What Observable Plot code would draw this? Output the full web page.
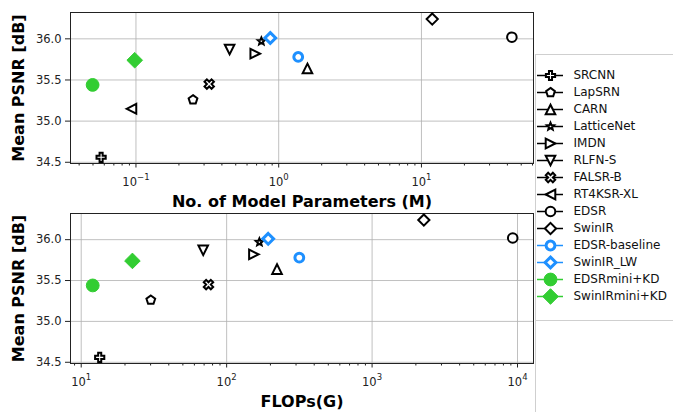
<!DOCTYPE html>
<html><head><meta charset="utf-8">
<script src="https://cdn.jsdelivr.net/npm/d3@7"></script>
<script src="https://cdn.jsdelivr.net/npm/@observablehq/plot@0.6"></script>
<style>
html,body{margin:0;padding:0;background:#fff;}
#root{position:relative;width:673px;height:412px;overflow:hidden;font-family:"DejaVu Sans",sans-serif;}
#root > *{position:absolute;}
</style></head><body><div id="root"></div>
<script>
// ---------- data ----------
const names = ["SRCNN","LapSRN","CARN","LatticeNet","IMDN","RLFN-S","FALSR-B","RT4KSR-XL","EDSR","SwinIR","EDSR-baseline","SwinIR_LW","EDSRmini+KD","SwinIRmini+KD"];
const paramsM = [0.057, 0.251, 1.59, 0.756, 0.685, 0.453, 0.326, 0.093, 43.0, 11.9, 1.37, 0.873, 0.0497, 0.098];
const flopsG  = [13.4, 30.1, 222, 168, 154, 69, 75, null, 9270, 2270, 316, 193, 12.0, 22.5];
const psnr    = [34.56, 35.26, 35.64, 35.97, 35.82, 35.87, 35.45, 35.15, 36.02, 36.24, 35.78, 36.01, 35.44, 35.74];
const yTicks = [34.5, 35.0, 35.5, 36.0];
const paramTicks = [0.1, 1, 10];
const flopTicks = [10, 100, 1000, 10000];

// ---------- style ----------
function poly(c, pts){ c.moveTo(pts[0][0], pts[0][1]); for (let k=1;k<pts.length;k++) c.lineTo(pts[k][0], pts[k][1]); c.closePath(); }
function rad(s){ return Math.sqrt(s/Math.PI); }
const plusPts = [[-1,-3],[1,-3],[1,-1],[3,-1],[3,1],[1,1],[1,3],[-1,3],[-1,1],[-3,1],[-3,-1],[-1,-1]];
function regular(n, R, a0){ return d3.range(n).map(k => [R*Math.cos(a0 + 2*Math.PI*k/n), R*Math.sin(a0 + 2*Math.PI*k/n)]); }
const S = {
  plus: {draw(c,s){ const R=rad(s); poly(c, plusPts.map(([x,y])=>[x*R/3, y*R/3])); }},
  xcross: {draw(c,s){ const R=rad(s), q=Math.SQRT1_2; poly(c, plusPts.map(([x,y])=>[(x-y)*q*R/3, (x+y)*q*R/3])); }},
  pentagon: {draw(c,s){ poly(c, regular(5, rad(s), -Math.PI/2)); }},
  triUp: {draw(c,s){ const R=rad(s); poly(c, [[0,-R],[R,R],[-R,R]]); }},
  triDown: {draw(c,s){ const R=rad(s); poly(c, [[0,R],[R,-R],[-R,-R]]); }},
  triLeft: {draw(c,s){ const R=rad(s); poly(c, [[-R,0],[R,-R],[R,R]]); }},
  triRight: {draw(c,s){ const R=rad(s); poly(c, [[R,0],[-R,-R],[-R,R]]); }},
  star: {draw(c,s){ const R=rad(s); poly(c, d3.range(10).map(k => { const r = k%2 ? R*0.45 : R, a = -Math.PI/2 + Math.PI*k/5; return [r*Math.cos(a), r*Math.sin(a)]; })); }},
  circle: {draw(c,s){ const R=rad(s); c.moveTo(R,0); c.arc(0,0,R,0,2*Math.PI); c.closePath(); }},
  diamond: {draw(c,s){ const R=rad(s); poly(c, [[0,-R],[R,0],[0,R],[-R,0]]); }}
};
const BLACK = "#000", BLUE = "#1e90ff", GREEN = "#32cd32";
const style = [
  {sym:S.plus, r:4.6, stroke:BLACK, fill:"#fff", sw:2},
  {sym:S.pentagon, r:4.6, stroke:BLACK, fill:"#fff", sw:2},
  {sym:S.triUp, r:4.8, stroke:BLACK, fill:"#fff", sw:2},
  {sym:S.star, r:3.8, stroke:BLACK, fill:"#fff", sw:2},
  {sym:S.triRight, r:4.8, stroke:BLACK, fill:"#fff", sw:2},
  {sym:S.triDown, r:4.8, stroke:BLACK, fill:"#fff", sw:2},
  {sym:S.xcross, r:5, stroke:BLACK, fill:"#fff", sw:2},
  {sym:S.triLeft, r:4.8, stroke:BLACK, fill:"#fff", sw:2},
  {sym:S.circle, r:4.8, stroke:BLACK, fill:"#fff", sw:2},
  {sym:S.diamond, r:5.6, stroke:BLACK, fill:"#fff", sw:2},
  {sym:S.circle, r:4.4, stroke:BLUE, fill:"#fff", sw:3},
  {sym:S.diamond, r:5.4, stroke:BLUE, fill:"#fff", sw:3},
  {sym:S.circle, r:6.4, stroke:GREEN, fill:GREEN, sw:1},
  {sym:S.diamond, r:7.8, stroke:GREEN, fill:GREEN, sw:1}
];
const supMap = {"-":"\u2212"};
const expText = d => String(Math.round(Math.log10(d))).split("").map(ch => supMap[ch] || ch).join("");
const BASE_FS = 11.5, EXP_FS = 8.5;
const baseW = 2 * 0.636 * BASE_FS;
const expW = e => e.split("").reduce((w, ch) => w + (ch === "\u2212" ? 0.838 : 0.636) * EXP_FS, 0);
const gridStyle = {stroke:"#b0b0b0", strokeOpacity:1, strokeWidth:0.8};

function tickLabels(majors){
  const out = [];
  for (const m of majors) {
    const e = expText(m);
    const split = -(baseW + expW(e)) / 2 + baseW;
    out.push(Plot.text([m], {x: d => d, text: () => "10", frameAnchor:"bottom", lineAnchor:"bottom", textAnchor:"end", dx: split, dy: 22, fontSize: BASE_FS, fill:"#222"}));
    out.push(Plot.text([m], {x: d => d, text: () => e, frameAnchor:"bottom", lineAnchor:"bottom", textAnchor:"start", dx: split, dy: 16.5, fontSize: EXP_FS, fill:"#222"}));
  }
  return out;
}

function panel(xVals, xDomain, majors, xLabel, mt, mb, h){
  const minors = d3.scaleLog().domain(xDomain).ticks().filter(t => !majors.some(m => Math.abs(m - t)/m < 1e-9));
  const idx = d3.range(names.length).filter(i => xVals[i] != null);
  return Plot.plot({
    width: 535, height: h,
    marginLeft: 70, marginRight: 2, marginTop: mt, marginBottom: mb,
    style: {fontFamily:"DejaVu Sans", fontSize:"11.5px", color:"#000", background:"transparent", overflow:"visible"},
    x: {type:"log", domain: xDomain, label: null},
    y: {domain: [34.485, 36.32], label: null},
    marks: [
      Plot.gridX(majors, gridStyle),
      Plot.gridY(yTicks, gridStyle),
      Plot.axisX(minors, {tickSize: 2.5, tickFormat: () => "", label: null, stroke:"#222"}),
      Plot.axisX(majors, {tickSize: 4.5, tickFormat: () => "", label: null, stroke:"#222"}),
      ...tickLabels(majors),
      Plot.axisY(yTicks, {tickSize: 5, tickPadding: 4, tickFormat: d3.format(".1f"), label: null, stroke:"#222", fill:"#222"}),
      Plot.frame({stroke:"#222", strokeWidth:1}),
      ...idx.map(i => Plot.dot([i], {
        x: j => xVals[j], y: j => psnr[j],
        symbol: style[i].sym, r: style[i].r,
        stroke: style[i].stroke, fill: style[i].fill, strokeWidth: style[i].sw
      })),
      Plot.text([xLabel], {text: d => d, frameAnchor:"bottom", lineAnchor:"middle", textAnchor:"middle", dy: 38, fontSize: 16, fontWeight:"bold", fill:"#000"}),
      Plot.text(["Mean PSNR [dB]"], {text: d => d, frameAnchor:"left", lineAnchor:"middle", textAnchor:"middle", rotate:-90, dx:-52, fontSize: 16, fontWeight:"bold", fill:"#000"})
    ]
  });
}

const root = document.getElementById("root");
const top1 = panel(paramsM, [0.03479, 60.95], paramTicks, "No. of Model Parameters (M)", 12, 47, 210);
top1.style.left = "0px"; top1.style.top = "0px";
const bot = panel(flopsG, [8.44, 12880], flopTicks, "FLOPs(G)", 13, 49, 212);
bot.style.left = "0px"; bot.style.top = "200px";
root.appendChild(top1);
root.appendChild(bot);

// legend frame
const box = document.createElement("div");
box.style.cssText = "left:535px;top:54px;width:140px;height:360px;border-left:1px solid #cfcfcf;border-top:1px solid #cfcfcf;box-sizing:border-box;";
root.appendChild(box);
const sep = document.createElement("div");
sep.style.cssText = "left:536px;top:320px;width:140px;height:0;border-top:1px solid #cfcfcf;";
root.appendChild(sep);

// legend
const legend = Plot.plot({
  width: 138, height: 412, margin: 0,
  style: {fontFamily:"DejaVu Sans", fontSize:"12px", color:"#000", background:"transparent", overflow:"visible"},
  x: {type:"identity", axis: null},
  y: {type:"point", domain: names, range: [63.3, 308.3], axis: null},
  marks: [
    ...names.map((n, i) => Plot.ruleY([n], {y: d => d, x1: 2, x2: 28, stroke: style[i].stroke, strokeWidth: 1.5})),
    ...names.map((n, i) => Plot.dot([n], {x: 15, y: d => d, symbol: style[i].sym, r: style[i].r, stroke: style[i].stroke, fill: style[i].fill, strokeWidth: style[i].sw})),
    Plot.text(names, {x: 38, y: d => d, text: d => d, textAnchor:"start", fill:"#111"})
  ]
});
legend.style.left = "535px"; legend.style.top = "0px";
root.appendChild(legend);
</script>
</body></html>
